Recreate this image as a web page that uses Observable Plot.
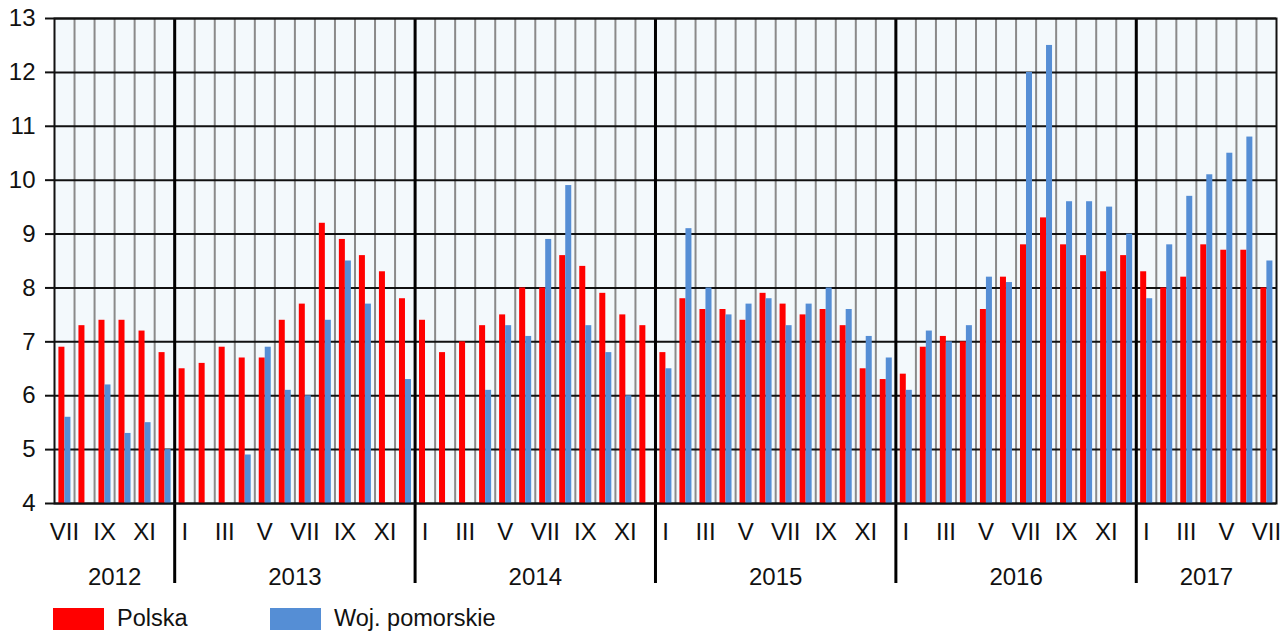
<!DOCTYPE html>
<html>
<head>
<meta charset="utf-8">
<script src="https://cdn.jsdelivr.net/npm/d3@7"></script>
<script src="https://cdn.jsdelivr.net/npm/@observablehq/plot@0.6"></script>
<style>
  body { margin: 0; background: #fff; font-family: "Liberation Sans", Arial, sans-serif; }
  #legend { position: relative; height: 27px; margin-top: 11px; font-size: 23.5px; color: #111; }
  .sw { position: absolute; top: 1px; width: 51px; height: 22px; }
  .lt { position: absolute; top: -2px; line-height: 26px; }
</style>
</head>
<body>
<div id="chart"></div>
<div id="legend">
  <div class="sw" style="left:53px;background:#ff0000"></div><div class="lt" style="left:117px">Polska</div>
  <div class="sw" style="left:270px;background:#558ed5"></div><div class="lt" style="left:334px">Woj. pomorskie</div>
</div>
<script>
const roman = ["I","II","III","IV","V","VI","VII","VIII","IX","X","XI","XII"];
const years = ["2012","2013","2014","2015","2016","2017"];
const startYear = 2012, startMonth = 7; // VII 2012
const polska = [
  6.9,7.3,7.4,7.4,7.2,6.8,
  6.5,6.6,6.9,6.7,6.7,7.4,7.7,9.2,8.9,8.6,8.3,7.8,
  7.4,6.8,7.0,7.3,7.5,8.0,8.0,8.6,8.4,7.9,7.5,7.3,
  6.8,7.8,7.6,7.6,7.4,7.9,7.7,7.5,7.6,7.3,6.5,6.3,
  6.4,6.9,7.1,7.0,7.6,8.2,8.8,9.3,8.8,8.6,8.3,8.6,
  8.3,8.0,8.2,8.8,8.7,8.7,8.0
];
const pomorskie = [
  5.6,null,6.2,5.3,5.5,5.0,
  null,null,null,4.9,6.9,6.1,6.0,7.4,8.5,7.7,null,6.3,
  null,null,null,6.1,7.3,7.1,8.9,9.9,7.3,6.8,6.0,null,
  6.5,9.1,8.0,7.5,7.7,7.8,7.3,7.7,8.0,7.6,7.1,6.7,
  6.1,7.2,7.0,7.3,8.2,8.1,12.0,12.5,9.6,9.6,9.5,9.0,
  7.8,8.8,9.7,10.1,10.5,10.8,8.5
];
const yTicks = [4,5,6,7,8,9,10,11,12,13];
const seriesNames = ["Polska","Woj. pomorskie"];
const colors = ["#ff0000","#558ed5"];

const yMin = yTicks[0], yMax = yTicks[yTicks.length-1];
const months = polska.map((p, i) => {
  const m0 = startMonth - 1 + i;
  return { i, year: startYear + Math.floor(m0 / 12), month: m0 % 12 };
});
const rows = [];
months.forEach((m, i) => {
  rows.push({ i, s: seriesNames[0], v: polska[i], k: 0 });
  if (pomorskie[i] != null) rows.push({ i, s: seriesNames[1], v: pomorskie[i], k: 1 });
});
const n = months.length;
const yearStarts = months.filter(m => m.month === 0).map(m => m.i);
const monthTicks = months.filter(m => m.month % 2 === 0).map(m => m.i + 0.5);
const monthLabel = new Map(months.map(m => [m.i + 0.5, roman[m.month]]));
const yearCenters = years.map(y => {
  const ms = months.filter(m => String(m.year) === y);
  return (ms[0].i + ms[ms.length-1].i + 1) / 2;
});
const yearLabel = new Map(yearCenters.map((c, j) => [c, years[j]]));

const chart = Plot.plot({
  width: 1283, height: 596,
  marginLeft: 54, marginRight: 7, marginTop: 18, marginBottom: 93,
  style: { fontFamily: "'Liberation Sans', Arial, sans-serif", fontSize: "24px", color: "#111", background: "#fff" },
  x: { type: "linear", domain: [0, n], axis: null },
  y: { domain: [yMin, yMax], axis: null },
  color: { domain: seriesNames, range: colors },
  marks: [
    Plot.frame({ fill: "#f3f9fc", stroke: null }),
    Plot.ruleX(d3.range(1, n), { stroke: "#8a8a8a", strokeWidth: 2 }),
    Plot.ruleY(yTicks, { stroke: "#111", strokeWidth: 2 }),
    Plot.rectY(rows, {
      x1: d => d.i + (d.k === 0 ? 0.22 : 0.52),
      x2: d => d.i + (d.k === 0 ? 0.52 : 0.82),
      y1: () => yMin, y2: "v", fill: "s"
    }),
    Plot.ruleX(yearStarts, { stroke: "#000", strokeWidth: 3, insetBottom: -80 }),
    Plot.frame({ stroke: "#111", strokeWidth: 2 }),
    Plot.axisY({ ticks: yTicks, label: null, tickSize: 9, tickPadding: 10, tickFormat: d => String(d), fontSize: 24, stroke: "#111", strokeWidth: 2 }),
    Plot.axisX({ ticks: monthTicks, label: null, tickFormat: d => monthLabel.get(d), tickSize: 0, tickPadding: 19, fontSize: 24 }),
    Plot.axisX({ ticks: yearCenters, label: null, tickFormat: d => yearLabel.get(d), tickSize: 0, tickPadding: 64, fontSize: 24 })
  ]
});
document.getElementById("chart").appendChild(chart);
</script>
</body>
</html>
